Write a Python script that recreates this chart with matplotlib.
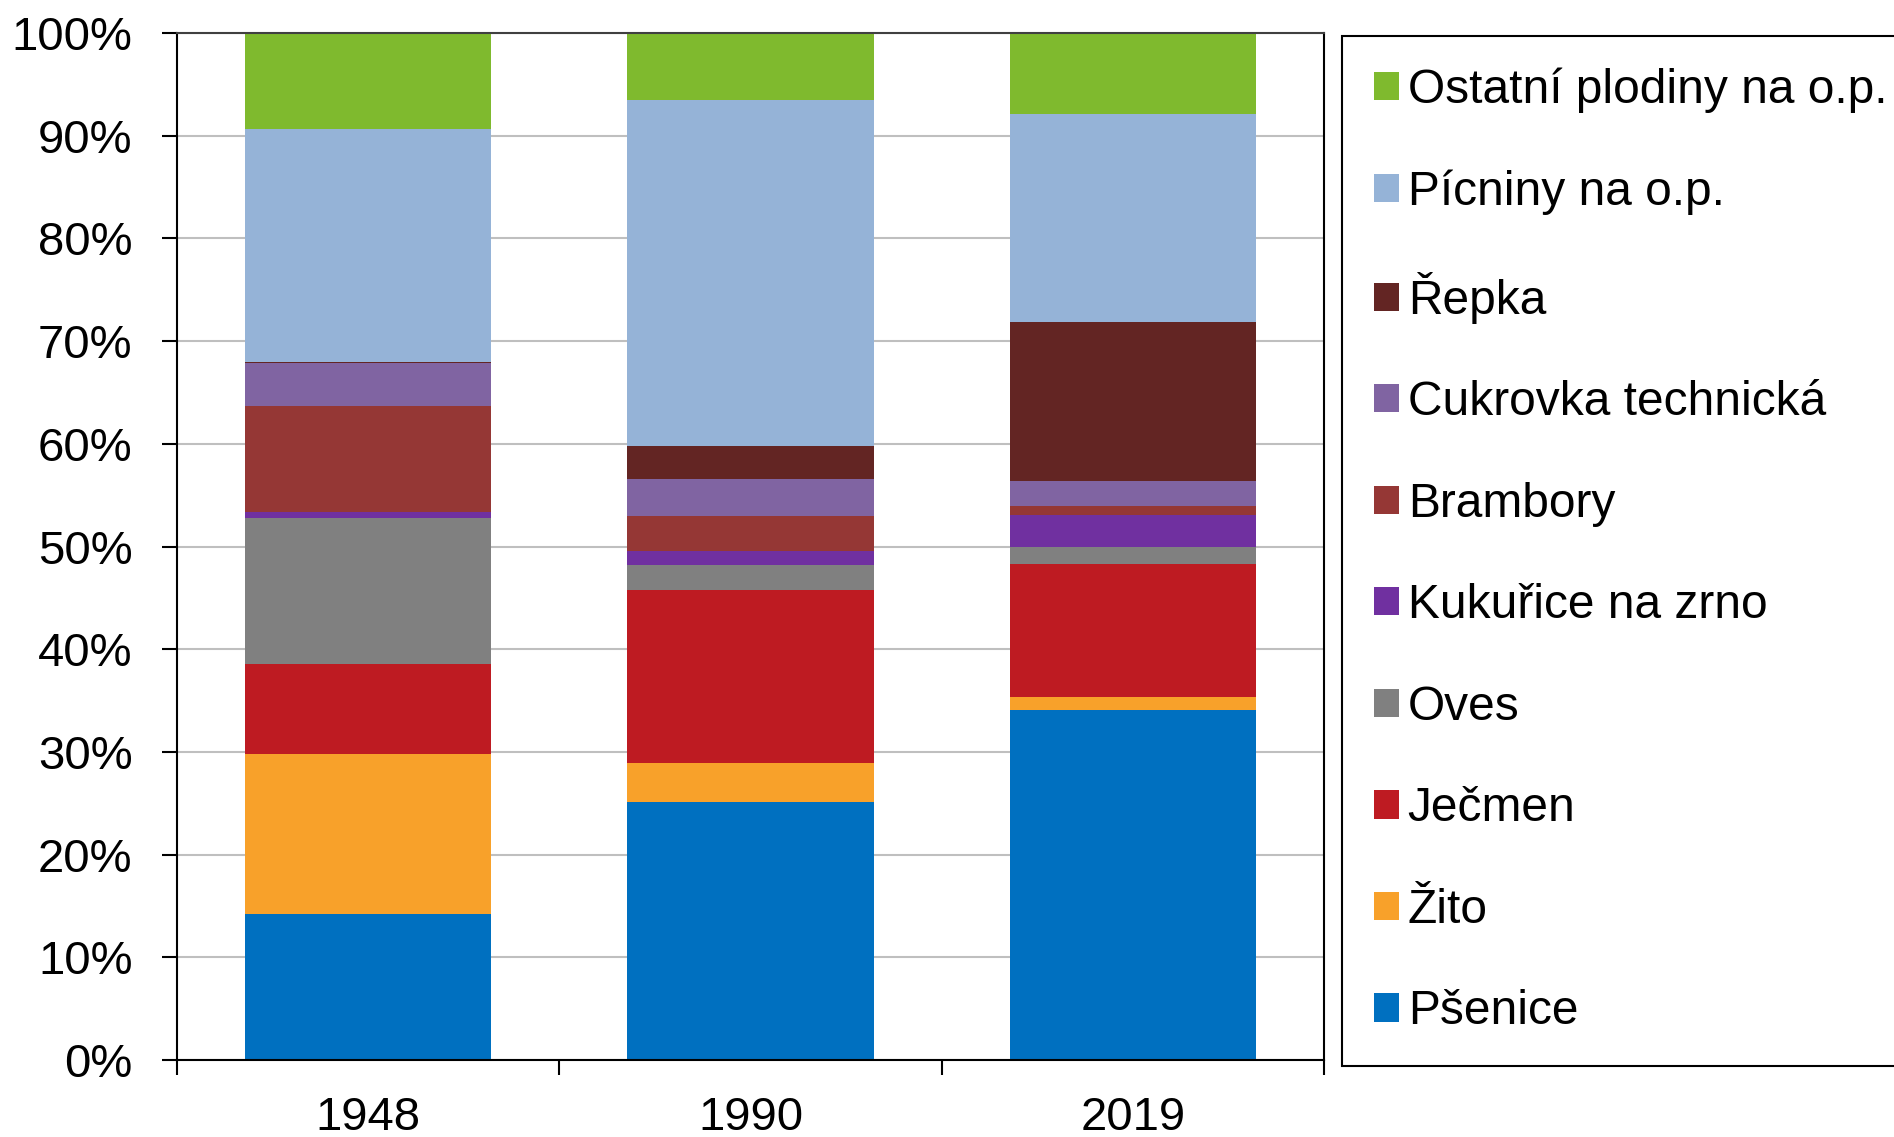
import matplotlib
matplotlib.use("Agg")
import matplotlib.pyplot as plt
import numpy as np

plt.rcParams['font.family'] = ['Liberation Sans', 'DejaVu Sans']

years = ["1948", "1990", "2019"]
series = ["Pšenice", "Žito", "Ječmen", "Oves", "Kukuřice na zrno", "Brambory",
          "Cukrovka technická", "Řepka", "Pícniny na o.p.", "Ostatní plodiny na o.p."]
psenice = [14.2, 25.1, 34.05]
zito = [15.6, 3.85, 1.3]
jecmen = [8.75, 16.85, 12.9]
oves = [14.2, 2.4, 1.75]
kukurice = [0.6, 1.4, 3.1]
brambory = [10.3, 3.35, 0.85]
cukrovka = [4.2, 3.65, 2.45]
repka = [0.1, 3.2, 15.45]
picniny = [22.7, 33.65, 20.25]
ostatni = [9.35, 6.55, 7.9]
values = [psenice, zito, jecmen, oves, kukurice, brambory, cukrovka, repka, picniny, ostatni]
colors = ["#0070C0", "#F8A12A", "#BE1B22", "#808080", "#7030A0", "#953735",
          "#8064A2", "#632523", "#95B3D7", "#7FBA2E"]
ytick_labels = ["0%", "10%", "20%", "30%", "40%", "50%", "60%", "70%", "80%", "90%", "100%"]

W, H = 1894, 1137
fig = plt.figure(figsize=(W / 100, H / 100), dpi=100)
ax = fig.add_axes([177 / W, (H - 1060) / H, (1324 - 177) / W, (1060 - 33) / H])

x = np.arange(len(years))
bottom = np.zeros(len(years))
handles = []
for vals, col, name in zip(values, colors, series):
    v = np.array(vals)
    b = ax.bar(x, v, 0.645, bottom=bottom, color=col, label=name, zorder=2, linewidth=0)
    handles.append(b)
    bottom += v

ax.set_xlim(-0.5, 2.5)
ax.set_ylim(0, 100)
ax.set_yticks(np.arange(0, 101, 10))
ax.set_yticklabels(ytick_labels)
ax.yaxis.grid(True, color="#BFBFBF", linewidth=1.5, zorder=0)
ax.set_axisbelow(True)

ax.set_xticks([-0.5, 0.5, 1.5, 2.5])
ax.set_xticklabels([])
ax.set_xticks(x, minor=True)
ax.set_xticklabels(years, minor=True)
ax.tick_params(axis="x", which="major", direction="out", length=11, width=1.5, color="black")
ax.tick_params(axis="x", which="minor", length=0, pad=26, labelsize=34)
ax.tick_params(axis="y", direction="out", length=11, width=1.5, pad=21, labelsize=34)

for s in ax.spines.values():
    s.set_color("black")
    s.set_linewidth(1.5)
ax.spines["top"].set_color("#404040")

leg = fig.legend(handles[::-1], series[::-1], loc="upper left",
                 bbox_to_anchor=(1342 / W, 1 - 36 / H),
                 fontsize=34.5, frameon=True, fancybox=False, shadow=False,
                 edgecolor="black", framealpha=1,
                 handlelength=0.53, handleheight=0.53, handletextpad=0.18,
                 borderpad=0.66, labelspacing=1.18, borderaxespad=0)
leg.get_frame().set_linewidth(1.5)

fig.savefig("out.png", dpi=100)
